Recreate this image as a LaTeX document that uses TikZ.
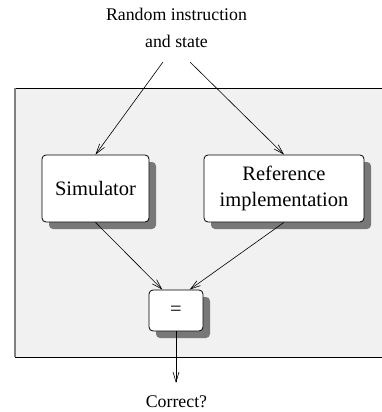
\documentclass[tikz,border=0pt]{standalone}
\usepackage{fontspec}
\setmainfont{Liberation Serif}
\usetikzlibrary{arrows.meta,shadows,calc}
\definecolor{panelgray}{RGB}{241,241,241}
\definecolor{shadegray}{RGB}{120,120,120}
\definecolor{edgegray}{RGB}{128,128,128}
\tikzset{
  unitbox/.style={draw=black, line width=0.8pt, fill=white, rounded corners=4pt,
    inner sep=0pt, align=center, font=\fontsize{20.5}{26}\selectfont,
    drop shadow={shadow xshift=7pt, shadow yshift=-7pt, fill=shadegray, opacity=1}},
  label text/.style={inner sep=0pt, align=center, font=\fontsize{17.8}{27}\selectfont},
  flow/.style={line width=0.6pt, -{Straight Barb[length=10pt,width=6pt]}}
}
\begin{document}
\begin{tikzpicture}[x=1pt, y=-1pt]
  \useasboundingbox (0,0) rectangle (382,412);
  % shaded panel holding the two implementations and the comparator
  \fill[panelgray] (15,88) rectangle (382,357);
  \draw[line width=0.9pt] (15,88) -- (382,88);
  \draw[line width=0.9pt] (15,357) -- (382,357);
  \draw[edgegray, line width=2pt] (15,88) -- (15,357);

  % input description and output label
  \node[label text] (input) at (176.5,28.4) {Random instruction\\and state};
  \node[label text, anchor=base] (result) at (176.5,407.5) {Correct?};
  \coordinate (inL) at (163,62);
  \coordinate (inR) at (190,62);
  \coordinate (outEnd) at (176,383);

  % boxes
  \node[unitbox, minimum width=107pt, minimum height=67pt] (sim) at (95.5,188.5) {Simulator};
  \node[unitbox, minimum width=160pt, minimum height=67pt] (ref) at (284,188.5) {Reference\\implementation};
  \node[unitbox, minimum width=54pt, minimum height=41pt] (eq) at (176,310.5) {=};

  % connections
  \draw[flow] (inL) -- (sim.north);
  \draw[flow] (inR) -- (ref.north);
  \draw[flow] (sim.south) -- ($(eq.north west)!0.25!(eq.north east)$);
  \draw[flow] (ref.south) -- ($(eq.north west)!0.75!(eq.north east)$);
  \draw[flow] (eq.south) -- (outEnd);
\end{tikzpicture}
\end{document}
